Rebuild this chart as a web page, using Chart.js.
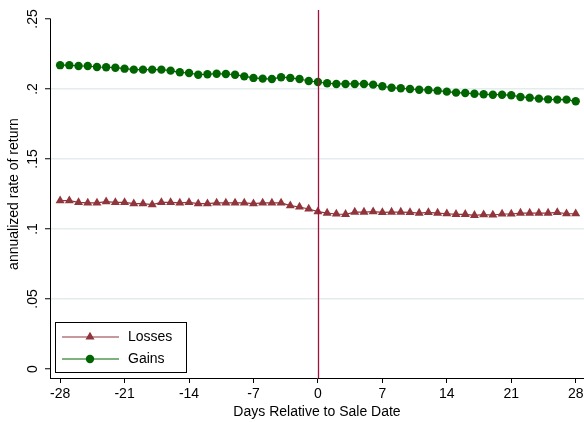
<!DOCTYPE html>
<html>
<head>
<meta charset="utf-8">
<script src="https://cdn.jsdelivr.net/npm/chart.js@4"></script>
<style>
  html, body { margin: 0; padding: 0; background: #fff; }
  #wrap { width: 584px; height: 422px; }
</style>
</head>
<body>
<div id="wrap"><canvas id="rateChart" width="584" height="422"></canvas></div>
<script>
const days = [-28, -27, -26, -25, -24, -23, -22, -21, -20, -19, -18, -17, -16, -15, -14, -13, -12, -11, -10, -9, -8, -7, -6, -5, -4, -3, -2, -1, 0,
    1, 2, 3, 4, 5, 6, 7, 8, 9, 10, 11, 12, 13, 14, 15, 16, 17, 18, 19, 20, 21, 22, 23, 24, 25, 26, 27, 28];

const losses = [0.1202, 0.1202, 0.1190, 0.1186, 0.1186, 0.1195, 0.1190, 0.1190, 0.1181, 0.1181, 0.1174, 0.1190, 0.1190, 0.1186, 0.1190,
    0.1181, 0.1181, 0.1186, 0.1186, 0.1186, 0.1186, 0.1181, 0.1186, 0.1186, 0.1186, 0.1167, 0.1157, 0.1143, 0.1124,
    0.1114, 0.1107, 0.1105, 0.1121, 0.1121, 0.1124, 0.1119, 0.1121, 0.1121, 0.1119, 0.1114, 0.1119, 0.1114, 0.1109,
    0.1105, 0.1105, 0.1098, 0.1102, 0.1100, 0.1107, 0.1107, 0.1114, 0.1114, 0.1114, 0.1114, 0.1119, 0.1109, 0.1109];

const gains = [0.2170, 0.2170, 0.2164, 0.2164, 0.2157, 0.2155, 0.2152, 0.2145, 0.2138, 0.2138, 0.2138, 0.2138, 0.2131, 0.2119, 0.2114,
    0.2102, 0.2105, 0.2109, 0.2107, 0.2102, 0.2090, 0.2079, 0.2074, 0.2071, 0.2084, 0.2079, 0.2071, 0.2057, 0.2050,
    0.2041, 0.2036, 0.2036, 0.2036, 0.2036, 0.2031, 0.2019, 0.2009, 0.2005, 0.2000, 0.1995, 0.1993, 0.1988, 0.1981,
    0.1974, 0.1971, 0.1966, 0.1962, 0.1959, 0.1959, 0.1955, 0.1943, 0.1938, 0.1931, 0.1926, 0.1924, 0.1924, 0.1912];

const xTicks = [-28, -21, -14, -7, 0, 7, 14, 21, 28];
const yTicks = [0, 0.05, 0.1, 0.15, 0.2, 0.25];
const yTickLabels = ['0', '.05', '.1', '.15', '.2', '.25'];
const saleDay = 0;

const FONT = 'Liberation Sans, Arial, Helvetica, sans-serif';
const lossColor = '#90353b';
const gainColor = '#006400';

function toPoints(values) {
    return days.map((d, i) => ({ x: d, y: values[i] }));
}

// vertical line at the sale date, y axis line and the boxed legend
const extrasPlugin = {
    id: 'extras',
    afterDatasetsDraw(chart) {
        const { ctx, chartArea, scales } = chart;
        const x0 = Math.round(scales.x.getPixelForValue(saleDay)) + 0.5;
        ctx.save();
        ctx.strokeStyle = '#a0123a';
        ctx.lineWidth = 1.3;
        ctx.beginPath();
        ctx.moveTo(x0, chartArea.top);
        ctx.lineTo(x0, chartArea.bottom);
        ctx.stroke();
        ctx.restore();
    },
    afterDraw(chart) {
        const { ctx, chartArea, scales } = chart;
        ctx.save();
        // y axis line
        const yTop = scales.y.getPixelForValue(0.25);
        ctx.strokeStyle = '#000';
        ctx.lineWidth = 1;
        ctx.beginPath();
        ctx.moveTo(chartArea.left + 0.5, yTop - 0.5);
        ctx.lineTo(chartArea.left + 0.5, chartArea.bottom);
        ctx.stroke();

        // legend box
        const bx = 55.5, by = 322.5, bw = 131, bh = 50;
        ctx.fillStyle = '#fff';
        ctx.fillRect(bx, by, bw, bh);
        ctx.strokeStyle = '#000';
        ctx.strokeRect(bx, by, bw, bh);

        ctx.font = '14px ' + FONT;
        ctx.textBaseline = 'middle';
        chart.data.datasets.forEach((ds, i) => {
            const ly = 337 + i * 22;
            ctx.strokeStyle = ds.borderColor;
            ctx.lineWidth = 1.2;
            ctx.beginPath();
            ctx.moveTo(62, ly);
            ctx.lineTo(119, ly);
            ctx.stroke();
            ctx.fillStyle = ds.pointBackgroundColor;
            ctx.beginPath();
            if (ds.pointStyle === 'triangle') {
                const r = 5.2;
                ctx.moveTo(90, ly - r);
                ctx.lineTo(90 + r * 0.866, ly + r * 0.5);
                ctx.lineTo(90 - r * 0.866, ly + r * 0.5);
                ctx.closePath();
            } else {
                ctx.arc(90, ly, 4.2, 0, Math.PI * 2);
            }
            ctx.fill();
            ctx.fillStyle = '#000';
            ctx.fillText(ds.label, 128, ly);
        });
        ctx.restore();
    }
};

const ctx = document.getElementById('rateChart').getContext('2d');
new Chart(ctx, {
    type: 'line',
    data: {
        datasets: [
            {
                label: 'Losses',
                data: toPoints(losses),
                borderColor: lossColor,
                backgroundColor: lossColor,
                pointBackgroundColor: lossColor,
                pointBorderWidth: 0,
                pointStyle: 'triangle',
                pointRadius: 5.2,
                borderWidth: 1.2
            },
            {
                label: 'Gains',
                data: toPoints(gains),
                borderColor: gainColor,
                backgroundColor: gainColor,
                pointBackgroundColor: gainColor,
                pointBorderWidth: 0,
                pointStyle: 'circle',
                pointRadius: 4.2,
                borderWidth: 1.2
            }
        ]
    },
    options: {
        responsive: false,
        animation: false,
        layout: { autoPadding: false, padding: { top: 10, left: 0, right: 0, bottom: 0 } },
        plugins: {
            legend: { display: false },
            tooltip: { enabled: false }
        },
        scales: {
            x: {
                type: 'linear',
                min: -29.1,
                max: 28.9,
                afterBuildTicks(scale) {
                    scale.ticks = xTicks.map(v => ({ value: v }));
                },
                afterFit(scale) {
                    scale.height = 44;
                    scale.paddingLeft = 0;
                    scale.paddingRight = 0;
                },
                grid: {
                    drawOnChartArea: false,
                    tickLength: 5,
                    tickColor: '#000',
                    tickWidth: 1
                },
                border: { display: true, color: '#000', width: 1 },
                ticks: {
                    color: '#000',
                    font: { family: FONT, size: 14 },
                    padding: 3,
                    maxRotation: 0,
                    autoSkip: false
                },
                title: {
                    display: true,
                    text: 'Days Relative to Sale Date',
                    color: '#000',
                    font: { family: FONT, size: 14 },
                    padding: { top: 0, bottom: 1.5 }
                }
            },
            y: {
                type: 'linear',
                min: -0.0064,
                max: 0.2564,
                afterBuildTicks(scale) {
                    scale.ticks = yTicks.map(v => ({ value: v }));
                },
                afterFit(scale) {
                    scale.width = 50;
                    scale.paddingTop = 0;
                    scale.paddingBottom = 0;
                },
                grid: {
                    color: c => (c.tick && c.tick.value > 0 && c.tick.value < 0.25) ? '#e4ecee' : 'rgba(0,0,0,0)',
                    lineWidth: 1.5,
                    tickLength: 5,
                    tickColor: '#000',
                    tickWidth: 1
                },
                border: { display: false },
                ticks: {
                    color: '#000',
                    font: { family: FONT, size: 14 },
                    padding: 2,
                    minRotation: 90,
                    maxRotation: 90,
                    crossAlign: 'center',
                    autoSkip: false,
                    callback: (v, i) => yTickLabels[i]
                },
                title: {
                    display: true,
                    text: 'annualized rate of return',
                    color: '#000',
                    font: { family: FONT, size: 14 },
                    padding: { top: 6, bottom: 0 }
                }
            }
        }
    },
    plugins: [extrasPlugin]
});
</script>
</body>
</html>
